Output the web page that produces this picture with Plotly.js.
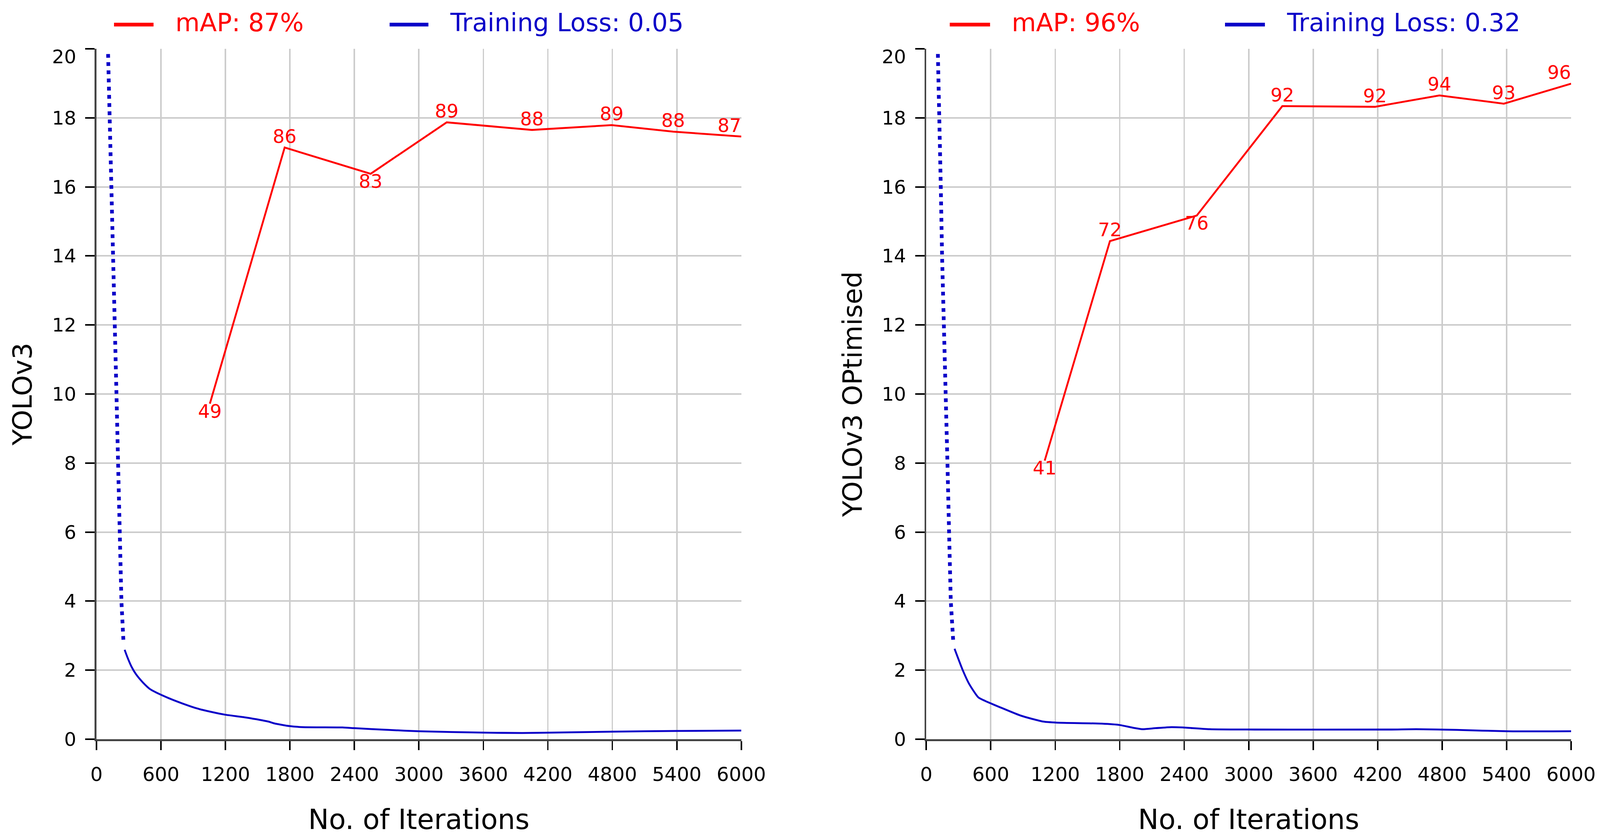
<!DOCTYPE html>
<html>
<head>
<meta charset="utf-8">
<script src="https://cdn.plot.ly/plotly-3.0.1.min.js"></script>
<style>html,body{margin:0;padding:0;background:#fff;overflow:hidden;}</style>
</head>
<body>
<div id="chart"></div>
<script>
// ---------- data ----------
const xTickVals = [0, 600, 1200, 1800, 2400, 3000, 3600, 4200, 4800, 5400, 6000];
const yTickVals = [0, 2, 4, 6, 8, 10, 12, 14, 16, 18, 20];

// YOLOv3 (left)
const v3_mapX = [1055, 1751, 2551, 3259, 4052, 4794, 5366, 6000];
const v3_mapY = [9.72, 17.14, 16.38, 17.87, 17.65, 17.79, 17.60, 17.46];
const v3_mapLabels = ['49', '86', '83', '89', '88', '89', '88', '87'];
const v3_lossDotX = [108, 124, 135, 151, 170, 186, 201, 216, 232, 251];
const v3_lossDotY = [19.85, 18.0, 16.0, 14.0, 12.0, 10.0, 8.0, 6.0, 4.0, 2.83];
const v3_lossX = [262, 287, 326, 366, 433, 499, 552, 671, 804, 937, 1069, 1197, 1388, 1600, 1653, 1797, 1919, 2290, 2397, 2715, 2999, 3602, 3960, 4234, 4814, 5394, 6000];
const v3_lossY = [2.59, 2.38, 2.10, 1.89, 1.64, 1.45, 1.36, 1.19, 1.03, 0.89, 0.79, 0.71, 0.63, 0.51, 0.46, 0.38, 0.35, 0.34, 0.32, 0.27, 0.23, 0.19, 0.18, 0.19, 0.22, 0.24, 0.25];
const v3_legendMap = 'mAP: 87%';
const v3_legendLoss = 'Training Loss: 0.05';
const v3_yTitle = 'YOLOv3';

// YOLOv3 Optimised (right)
const opt_mapX = [1102, 1709, 2517, 3313, 4175, 4775, 5374, 6000];
const opt_mapY = [8.07, 14.43, 15.17, 18.34, 18.32, 18.65, 18.41, 18.99];
const opt_mapLabels = ['41', '72', '76', '92', '92', '94', '93', '96'];
const opt_lossDotX = [108, 124, 135, 147, 166, 182, 197, 212, 228, 251];
const opt_lossDotY = [19.85, 18.0, 16.0, 14.0, 12.0, 10.0, 8.0, 6.0, 4.0, 2.83];
const opt_lossX = [263, 338, 401, 485, 547, 714, 882, 1090, 1216, 1634, 1801, 1926, 2010, 2135, 2281, 2386, 2637, 3055, 4308, 4559, 4935, 5403, 6000];
const opt_lossY = [2.62, 2.01, 1.59, 1.21, 1.11, 0.89, 0.68, 0.51, 0.48, 0.45, 0.41, 0.33, 0.29, 0.32, 0.35, 0.34, 0.29, 0.28, 0.28, 0.29, 0.27, 0.23, 0.23];
const opt_legendMap = 'mAP: 96%';
const opt_legendLoss = 'Training Loss: 0.32';
const opt_yTitle = 'YOLOv3 OPtimised';

const xTitle = 'No. of Iterations';

// ---------- sizing (reference is 4291 x 2146; scale to the real viewport) ----------
const RW = 4291, RH = 2146;
const W = window.innerWidth || RW;
const H = window.innerHeight || RH;
const sx = W / RW, sy = H / RH, s = Math.min(sx, sy);
const chartDiv = document.getElementById('chart');
chartDiv.style.width = W + 'px';
chartDiv.style.height = H + 'px';

const RED = '#ff0000';
const BLUE = '#0a00c8';
const FONT = 'DejaVu Sans, Verdana, sans-serif';
const M = {l: 259, r: 78, t: 125, b: 253};   // reference px
const PW = RW - M.l - M.r, PH = RH - M.t - M.b;
const px2x = p => (p - M.l) / PW;
const py2y = p => (RH - M.b - p) / PH;

function posFor(labels, special) {
  return labels.map((_, i) => special[i] || 'top center');
}
const dotDash = (10 * s) + 'px,' + (12 * s) + 'px';

const traces = [
  {x: v3_lossDotX, y: v3_lossDotY, xaxis: 'x', yaxis: 'y', mode: 'lines',
   line: {color: BLUE, width: 10 * s, dash: dotDash}},
  {x: v3_lossX, y: v3_lossY, xaxis: 'x', yaxis: 'y', mode: 'lines',
   line: {color: BLUE, width: 5 * s, shape: 'spline', smoothing: 0.6}},
  {x: v3_mapX, y: v3_mapY, xaxis: 'x', yaxis: 'y', mode: 'lines+text',
   text: v3_mapLabels, textposition: posFor(v3_mapLabels, {0: 'bottom center', 2: 'bottom center', 7: 'top left'}),
   textfont: {family: FONT, size: 50 * s, color: RED}, cliponaxis: false,
   line: {color: RED, width: 5 * s}},
  {x: opt_lossDotX, y: opt_lossDotY, xaxis: 'x2', yaxis: 'y2', mode: 'lines',
   line: {color: BLUE, width: 10 * s, dash: dotDash}},
  {x: opt_lossX, y: opt_lossY, xaxis: 'x2', yaxis: 'y2', mode: 'lines',
   line: {color: BLUE, width: 5 * s, shape: 'spline', smoothing: 0.6}},
  {x: opt_mapX, y: opt_mapY, xaxis: 'x2', yaxis: 'y2', mode: 'lines+text',
   text: opt_mapLabels, textposition: posFor(opt_mapLabels, {0: 'bottom center', 2: 'bottom center', 7: 'top left'}),
   textfont: {family: FONT, size: 50 * s, color: RED}, cliponaxis: false,
   line: {color: RED, width: 5 * s}}
];

function xAxis(domain, anchor) {
  return {
    domain: domain, anchor: anchor, range: [0, 6000], tickvals: xTickVals,
    ticks: 'outside', ticklen: 24 * s, tickwidth: 4 * s, tickcolor: '#000',
    showline: true, linecolor: '#444', linewidth: 5 * s,
    showgrid: true, gridcolor: '#cccccc', gridwidth: 4 * s, zeroline: false,
    tickfont: {family: FONT, size: 52 * s, color: '#000'},
    title: {text: xTitle, font: {family: FONT, size: 74 * s, color: '#000'}, standoff: 88 * s},
    automargin: false, fixedrange: true
  };
}
function yAxis(anchor, title) {
  return {
    domain: [0, 1], anchor: anchor, range: [0, 20], tickvals: yTickVals,
    ticks: 'outside', ticklen: 25 * s, tickwidth: 4 * s, tickcolor: '#000',
    showline: true, linecolor: '#444', linewidth: 5 * s,
    showgrid: true, gridcolor: '#cccccc', gridwidth: 4 * s, zeroline: false,
    tickfont: {family: FONT, size: 51 * s, color: '#000'},
    title: {text: title, font: {family: FONT, size: 71 * s, color: '#000'}, standoff: 46 * s},
    automargin: false, fixedrange: true
  };
}

const leftDomainEnd = (1988 - M.l) / PW;
const rightDomainStart = (2484 - M.l) / PW;

function legendLine(x0p, x1p, color) {
  return {type: 'line', xref: 'paper', yref: 'paper', x0: px2x(x0p), x1: px2x(x1p),
          y0: py2y(63), y1: py2y(63), line: {color: color, width: 10 * s}};
}
function legendText(xp, text, color) {
  return {xref: 'paper', yref: 'paper', x: px2x(xp), y: py2y(58), xanchor: 'left', yanchor: 'middle',
          text: text, showarrow: false, font: {family: FONT, size: 67 * s, color: color}};
}

const layout = {
  width: W, height: H,
  margin: {l: M.l * sx, r: M.r * sx, t: M.t * sy, b: M.b * sy, pad: 0},
  paper_bgcolor: '#fff', plot_bgcolor: '#fff', showlegend: false,
  font: {family: FONT},
  xaxis: xAxis([0, leftDomainEnd], 'y'),
  yaxis: yAxis('x', v3_yTitle),
  xaxis2: xAxis([rightDomainStart, 1], 'y2'),
  yaxis2: yAxis('x2', opt_yTitle),
  shapes: [
    legendLine(306, 412, RED), legendLine(1045, 1149, BLUE),
    legendLine(2547, 2655, RED), legendLine(3285, 3392, BLUE)
  ],
  annotations: [
    legendText(469, v3_legendMap, RED), legendText(1205, v3_legendLoss, BLUE),
    legendText(2711, opt_legendMap, RED), legendText(3448, opt_legendLoss, BLUE)
  ]
};

Plotly.newPlot('chart', traces, layout, {staticPlot: true, displayModeBar: false}).then(function (gd) {
  // nudge tick labels to the gaps used in the reference (ticklabelstandoff is not applied here)
  function shift(sel, dx, dy, keep) {
    gd.querySelectorAll(sel).forEach(function (el) {
      if (keep && !keep(el)) return;
      const t = el.getAttribute('transform') || '';
      el.setAttribute('transform', t + ' translate(' + dx + ',' + dy + ')');
    });
  }
  shift('.xtick text, .x2tick text', 0, 20 * sy);
  shift('.ytick text, .y2tick text', -14 * s, 0);
  shift('.ytick text, .y2tick text', 0, 20 * sy, function (el) { return el.textContent === '20'; });
});
</script>
</body>
</html>
